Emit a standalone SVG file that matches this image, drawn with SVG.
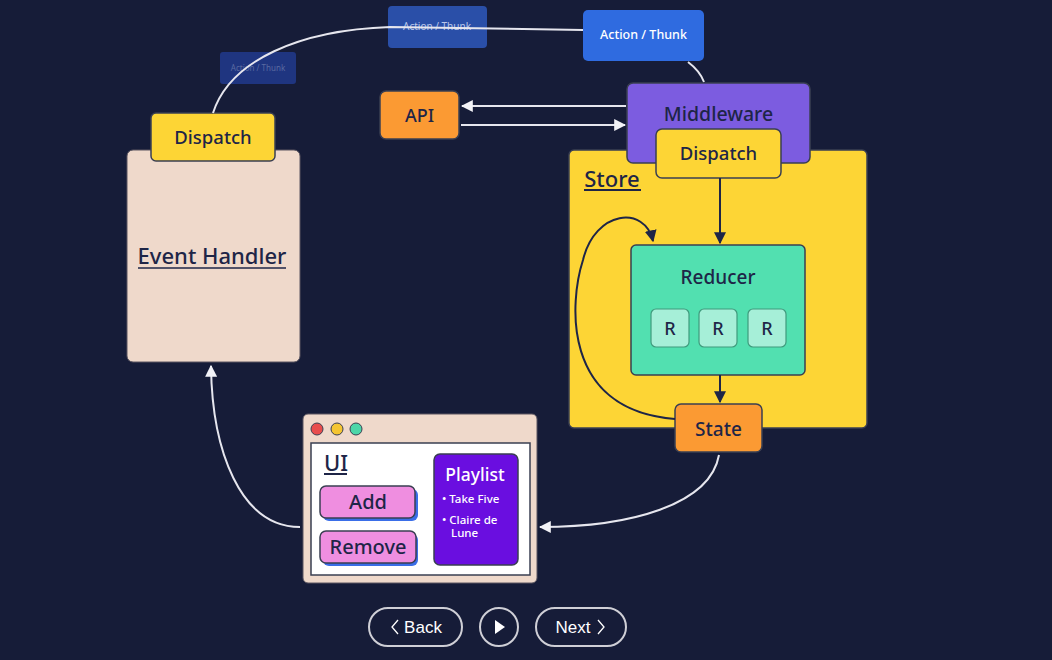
<svg xmlns="http://www.w3.org/2000/svg" width="1052" height="660" viewBox="0 0 1052 660">
<defs>
<style>
.t{font-family:"Noto Sans","Open Sans",sans-serif;font-weight:500;fill:#1e2547;text-anchor:middle}
.box{stroke:#3a3f52;stroke-width:1.5}
.wire{fill:none;stroke:#e6e6ee;stroke-width:2}
.dark{fill:none;stroke:#1e2547;stroke-width:2}
.nav{fill:none;stroke:#cfcfd6;stroke-width:2}
.navt{font-family:"Liberation Sans",Arial,sans-serif;font-size:17px;fill:#fff;text-anchor:middle}
.wt{font-family:"Noto Sans",sans-serif;font-weight:500;fill:#fff}
</style>
<marker id="aw" viewBox="0 0 10 10" refX="9" refY="5" markerWidth="6" markerHeight="6" orient="auto"><path d="M0,0L10,5L0,10z" fill="#f2f2f7"/></marker>
<marker id="ad" viewBox="0 0 10 10" refX="9" refY="5" markerWidth="6" markerHeight="6" orient="auto"><path d="M0,0L10,5L0,10z" fill="#1e2547"/></marker>
</defs>
<rect width="1052" height="660" fill="#161c38"/>

<g id="action-faded">
<rect x="220" y="52" width="76" height="32" rx="3" fill="#1f3580"/>
<text x="258" y="71" font-family="Noto Sans,sans-serif" font-size="8" fill="#5a6aa0" text-anchor="middle">Action / Thunk</text>
</g>
<g id="action-mid">
<rect x="388" y="6" width="99" height="42" rx="4" fill="#2a4fa8"/>
<text x="437" y="30" font-family="Noto Sans,sans-serif" font-size="10" fill="#b9c6ea" text-anchor="middle">Action / Thunk</text>
</g>
<g id="action">
<rect x="583" y="10" width="121" height="51" rx="5" fill="#2f6be0"/>
<text class="wt" x="643.5" y="39" font-size="12.5" text-anchor="middle">Action / Thunk</text>
</g>

<g id="api">
<rect class="box" x="380" y="91" width="79" height="48" rx="6" fill="#fb9a33"/>
<text class="t" x="419.5" y="122" font-size="18">API</text>
</g>

<g id="store">
<rect class="box" x="569" y="150" width="298" height="278" rx="5" fill="#fdd535"/>
<text class="t" x="612" y="187" font-size="22" font-weight="600">Store</text>
<line x1="584" y1="190" x2="641" y2="190" stroke="#1e2547" stroke-width="2"/>
</g>

<g id="middleware">
<rect class="box" x="627" y="83" width="183" height="80" rx="6" fill="#7c5ce0"/>
<text class="t" x="718.5" y="121" font-size="19.5">Middleware</text>
</g>

<g id="store-dispatch">
<rect class="box" x="656" y="129" width="125" height="49" rx="6" fill="#fdd535"/>
<text class="t" x="718.5" y="160" font-size="18.5">Dispatch</text>
</g>

<g id="reducer">
<rect class="box" x="631" y="245" width="174" height="130" rx="5" fill="#52e0b0"/>
<text class="t" x="718" y="284" font-size="19">Reducer</text>
<rect x="651" y="309" width="38" height="38" rx="5" fill="#a6efd8" stroke="#3f9a7c" stroke-width="1.2"/>
<rect x="699" y="309" width="38" height="38" rx="5" fill="#a6efd8" stroke="#3f9a7c" stroke-width="1.2"/>
<rect x="748" y="309" width="38" height="38" rx="5" fill="#a6efd8" stroke="#3f9a7c" stroke-width="1.2"/>
<text class="t" x="670" y="335" font-size="18">R</text>
<text class="t" x="718" y="335" font-size="18">R</text>
<text class="t" x="767" y="335" font-size="18">R</text>
</g>

<g id="state">
<rect class="box" x="675" y="404" width="87" height="48" rx="6" fill="#fb9a33"/>
<text class="t" x="718.5" y="436" font-size="19">State</text>
</g>

<g id="event-handler">
<rect x="127" y="150" width="173" height="212" rx="6" fill="#efd9cb" stroke="#5a5560" stroke-width="1"/>
<text class="t" x="212" y="264" font-size="22">Event Handler</text>
<line x1="138" y1="268" x2="286" y2="268" stroke="#1e2547" stroke-width="1.5"/>
</g>

<g id="eh-dispatch">
<rect class="box" x="151" y="113" width="124" height="48" rx="5" fill="#fdd535"/>
<text class="t" x="213" y="144" font-size="18.5">Dispatch</text>
</g>

<g id="ui">
<rect x="303" y="414" width="234" height="169" rx="5" fill="#efd9cb" stroke="#5a5560" stroke-width="1"/>
<circle cx="317" cy="429" r="6" fill="#e84c4c" stroke="#3a3f52" stroke-width="1"/>
<circle cx="337" cy="429" r="6" fill="#f5c531" stroke="#3a3f52" stroke-width="1"/>
<circle cx="356" cy="429" r="6" fill="#4cd6a8" stroke="#3a3f52" stroke-width="1"/>
<rect x="311" y="443" width="219" height="132" fill="#fff" stroke="#3a3f52" stroke-width="1.5"/>
<text class="t" x="336" y="471" font-size="22">UI</text>
<line x1="324" y1="474" x2="347" y2="474" stroke="#1e2547" stroke-width="2"/>
<rect x="323" y="489" width="95" height="32" rx="6" fill="#3a6ee8"/>
<rect class="box" x="320" y="486" width="95" height="32" rx="6" fill="#ef8ee0"/>
<text class="t" x="368" y="509" font-size="20">Add</text>
<rect x="323" y="534" width="95" height="32" rx="6" fill="#3a6ee8"/>
<rect class="box" x="320" y="531" width="96" height="32" rx="6" fill="#ef8ee0"/>
<text class="t" x="368" y="554" font-size="20">Remove</text>
<rect class="box" x="434" y="454" width="84" height="111" rx="6" fill="#6a0ee0"/>
<text class="wt" x="475" y="481" font-size="17.5" text-anchor="middle">Playlist</text>
<text class="wt" x="442" y="503" font-size="11.5">• Take Five</text>
<text class="wt" x="442" y="524" font-size="11.5">• Claire de</text>
<text class="wt" x="451" y="537" font-size="11.5">Lune</text>
</g>

<g id="nav">
<rect class="nav" x="369" y="608" width="93" height="38" rx="19"/>
<path d="M398,620 L392,627 L398,634" fill="none" stroke="#fff" stroke-width="1.3"/>
<text class="navt" x="423" y="633">Back</text>
<circle class="nav" cx="499" cy="627" r="19"/>
<path d="M495,620 L505,627 L495,634z" fill="#fff"/>
<rect class="nav" x="536" y="608" width="90" height="38" rx="19"/>
<text class="navt" x="573" y="633">Next</text>
<path d="M598,620 L604,627 L598,634" fill="none" stroke="#fff" stroke-width="1.3"/>
</g>

<g id="connectors">
<path class="wire" d="M213,113 C230,60 300,30 390,27 L583,30"/>
<path class="wire" d="M688,62 C696,68 701,74 704,82"/>
<line class="wire" x1="626" y1="106" x2="462" y2="106" marker-end="url(#aw)"/>
<line class="wire" x1="461" y1="125" x2="625" y2="125" marker-end="url(#aw)"/>
<line class="dark" x1="720" y1="178" x2="720" y2="243" marker-end="url(#ad)"/>
<line class="dark" x1="720" y1="375" x2="720" y2="402" marker-end="url(#ad)"/>
<path class="dark" d="M675,419 C560,410 570,300 583,260 C595,210 645,205 653,241" marker-end="url(#ad)"/>
<path class="wire" d="M300,527 C240,527 212,450 211,366" marker-end="url(#aw)"/>
<path class="wire" d="M719,455 C710,505 630,527 540,527" marker-end="url(#aw)"/>
</g>
</svg>
